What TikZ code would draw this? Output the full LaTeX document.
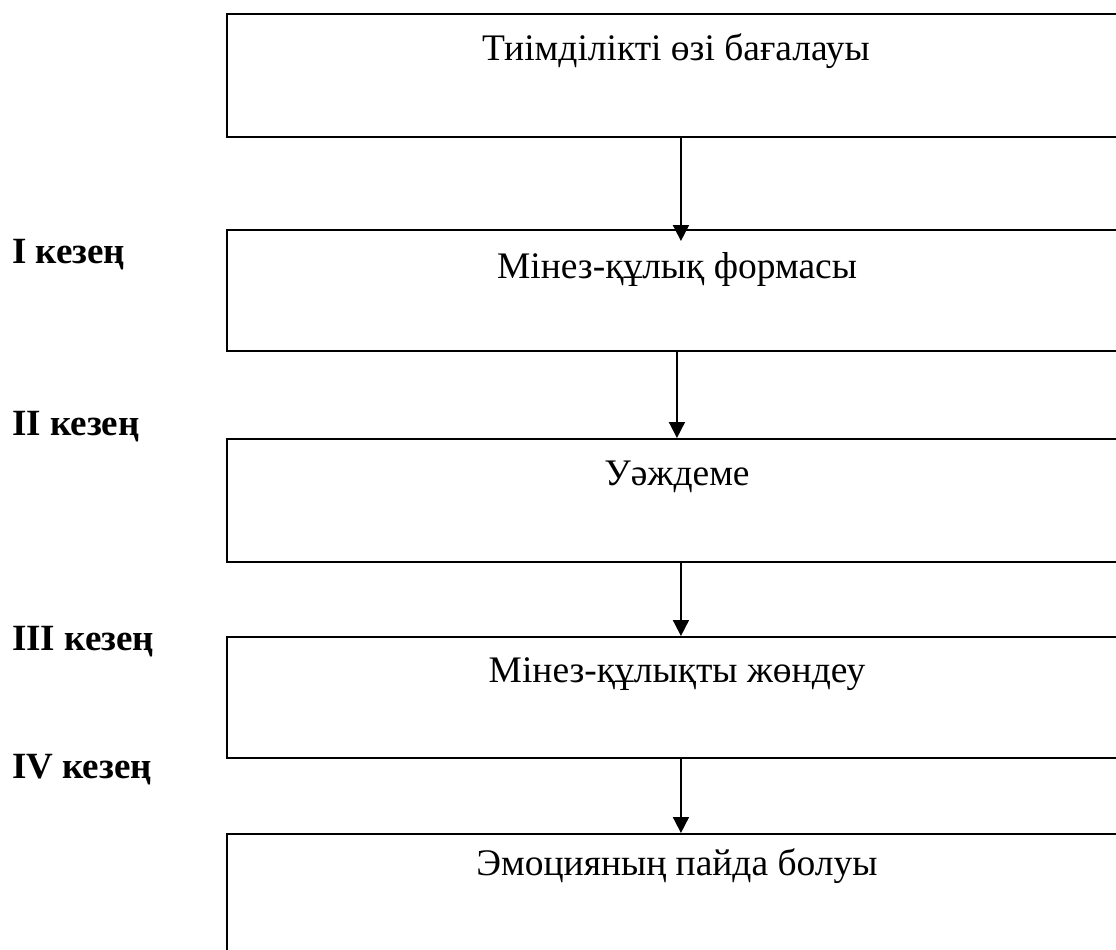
\documentclass[tikz,border=0pt]{standalone}
\usepackage{fontspec}
\setmainfont{Liberation Serif}
\usetikzlibrary{arrows.meta}
\tikzset{
  box/.style={draw=black, line width=1.9pt, fill=none, anchor=north west,
    minimum width=904pt, minimum height=123pt, inner sep=0pt},
  boxtext/.style={anchor=base, inner sep=0pt, font=\fontsize{37.5}{42}\selectfont},
  stage/.style={anchor=base west, inner sep=0pt, font=\fontsize{37}{42}\selectfont\bfseries},
  arr/.style={line width=1.8pt, -{Triangle[width=16pt,length=16pt]}},
}
\begin{document}
\begin{tikzpicture}[x=1pt, y=-1pt]
  \useasboundingbox (0,0) rectangle (1116,950);
  \clip (0,0) rectangle (1116,950);
  \fill[white] (0,0) rectangle (1116,950);

  % process boxes (they run past the right margin)
  \node[box] (b1) at (226,13)  {};
  \node[box, minimum height=121pt] (b2) at (226,229) {};
  \node[box] (b3) at (226,438) {};
  \node[box, minimum height=121pt] (b4) at (226,636) {};
  \node[box] (b5) at (226,833) {};

  % box captions
  \node[boxtext] (t1) at (676,60)  {Тиімділікті өзі бағалауы};
  \node[boxtext] (t2) at (677,278) {Мінез-құлық формасы};
  \node[boxtext] (t3) at (677,485) {Уәждеме};
  \node[boxtext] (t4) at (677,682) {Мінез-құлықты жөндеу};
  \node[boxtext] (t5) at (677,875) {Эмоцияның пайда болуы};

  % stage labels
  \node[stage] (s1) at (12,263) {I кезең};
  \node[stage] (s2) at (12,435) {II кезең};
  \node[stage] (s3) at (12,650) {III кезең};
  \node[stage] (s4) at (12,778) {IV кезең};

  % connectors
  \draw[arr, shorten >=-12pt] ([xshift=2pt]b1.south) -- ([xshift=2pt]b2.north);
  \draw[arr] ([xshift=-2pt]b2.south) -- ([xshift=-2pt]b3.north);
  \draw[arr] ([xshift=2pt]b3.south) -- ([xshift=2pt]b4.north);
  \draw[arr] ([xshift=2pt]b4.south) -- ([xshift=2pt]b5.north);
\end{tikzpicture}
\end{document}
